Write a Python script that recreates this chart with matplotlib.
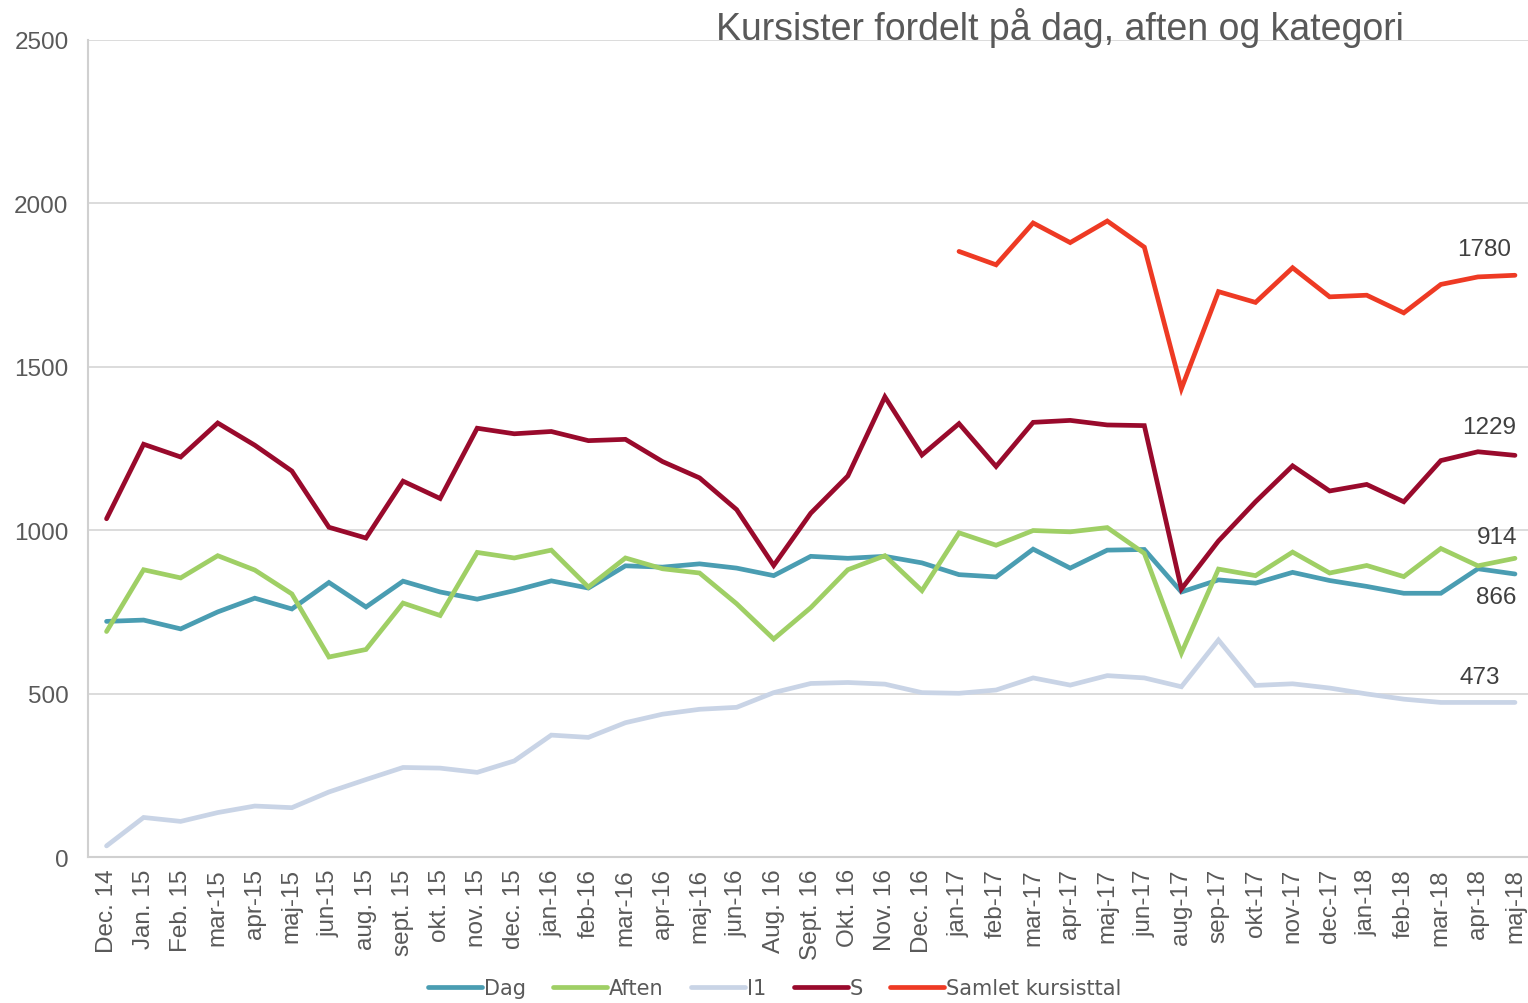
import matplotlib.pyplot as plt
import numpy as np

plt.rcParams['font.family'] = ['Liberation Sans', 'DejaVu Sans']

maaneder = ['Dec. 14', 'Jan. 15', 'Feb. 15', 'mar-15', 'apr-15', 'maj-15', 'jun-15',
            'aug. 15', 'sept. 15', 'okt. 15', 'nov. 15', 'dec. 15', 'jan-16', 'feb-16',
            'mar-16', 'apr-16', 'maj-16', 'jun-16', 'Aug. 16', 'Sept. 16', 'Okt. 16',
            'Nov. 16', 'Dec. 16', 'jan-17', 'feb-17', 'mar-17', 'apr-17', 'maj-17',
            'jun-17', 'aug-17', 'sep-17', 'okt-17', 'nov-17', 'dec-17', 'jan-18',
            'feb-18', 'mar-18', 'apr-18', 'maj-18']

dag = [721, 725, 698, 750, 792, 759, 840, 765, 844, 811, 789, 815, 845, 823, 891, 887,
       897, 884, 861, 920, 914, 920, 900, 864, 857, 942, 884, 939, 941, 811, 848, 838,
       871, 846, 828, 807, 807, 882, 866]
aften = [690, 879, 854, 922, 878, 805, 612, 635, 777, 739, 932, 915, 939, 826, 915, 882,
         869, 775, 667, 763, 879, 922, 815, 992, 954, 999, 995, 1008, 929, 624, 881, 861,
         933, 869, 892, 858, 944, 891, 914]
i1 = [34, 121, 109, 136, 156, 151, 199, 237, 274, 272, 259, 294, 373, 366, 411, 437,
      452, 458, 503, 531, 534, 529, 503, 501, 511, 548, 526, 555, 548, 521, 664, 525,
      530, 517, 499, 483, 473, 473, 473]
s = [1035, 1263, 1224, 1328, 1260, 1181, 1009, 976, 1150, 1097, 1312, 1295, 1302, 1274,
     1278, 1210, 1160, 1063, 892, 1052, 1166, 1408, 1230, 1326, 1195, 1330, 1336, 1322,
     1320, 820, 967, 1087, 1197, 1120, 1140, 1087, 1213, 1240, 1229]
samlet = [None] * 23 + [1853, 1812, 1940, 1880, 1946, 1866, 1433, 1730, 1697, 1803,
                        1714, 1719, 1665, 1752, 1775, 1780]

serier = [('Dag', dag, '#4a9db2'), ('Aften', aften, '#9fcf65'), ('I1', i1, '#c9d4e6'),
          ('S', s, '#990a2c'), ('Samlet kursisttal', samlet, '#ee3a24')]

fig = plt.figure(figsize=(15.28, 10.04), dpi=100)
ax = fig.add_axes([0.0576, 0.1454, 0.946, 0.8138])

x = np.arange(len(maaneder))
for navn, vals, farve in serier:
    y = np.array([np.nan if v is None else v for v in vals], dtype=float)
    ax.plot(x, y, color=farve, linewidth=3.4, label=navn, solid_capstyle='round',
            solid_joinstyle='miter')

# tal ved sidste punkt
etiketter = [(samlet, (-31, 26)), (s, (-26, 28)), (aften, (-18, 21)),
             (dag, (-19, -23)), (i1, (-35, 25))]
for vals, off in etiketter:
    ax.annotate(str(vals[-1]), (x[-1], vals[-1]), xytext=off, textcoords='offset pixels',
                ha='center', va='center', fontsize=17.5, color='#404040')

ax.set_xlim(-0.5, len(maaneder) - 0.5)
ax.set_ylim(0, 2500)
ax.set_yticks(range(0, 2501, 500))
ax.set_xticks(x)
ax.set_xticklabels(maaneder, rotation=90, fontsize=17.5, color='#595959')
ax.tick_params(axis='y', labelsize=17.5, labelcolor='#595959', length=0, pad=14)
ax.tick_params(axis='x', length=0, pad=8)
ax.grid(axis='y', color='#d9d9d9', linewidth=1.3)
ax.set_axisbelow(True)
for side in ['top', 'right']:
    ax.spines[side].set_visible(False)
for side in ['left', 'bottom']:
    ax.spines[side].set_color('#d0d0d0')
    ax.spines[side].set_linewidth(1.5)

fig.text(0.694, 0.972, 'Kursister fordelt på dag, aften og kategori', ha='center',
         va='center', fontsize=27, color='#595959')

fig.legend(loc='center', bbox_to_anchor=(0.507, 0.015), ncol=5, frameon=False,
           handlelength=2.6, handletextpad=0.1, columnspacing=1.3,
           prop={'family': ['Liberation Sans Narrow', 'DejaVu Sans'], 'size': 15},
           labelcolor='#595959')

fig.savefig('out.png')
